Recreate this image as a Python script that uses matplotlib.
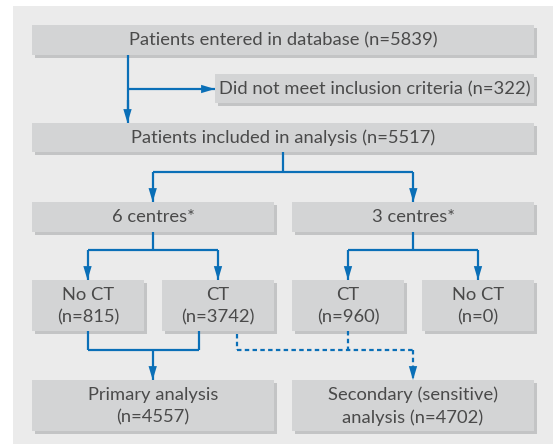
import matplotlib.pyplot as plt
from matplotlib.patches import Rectangle

# flowchart content
entered = 5839
excluded = 322
included = 5517
centres = ["6 centres*", "3 centres*"]
groups = ["No CT", "CT", "CT", "No CT"]
group_n = [815, 3742, 960, 0]
analyses = ["Primary analysis\n(n=4557)", "Secondary (sensitive)\nanalysis (n=4702)"]

BLUE = "#0a6fb7"
BOX = "#d3d4d5"
SHADOW = "#c3c4c5"
PANEL = "#ebebeb"
TXT = "#4a4a4a"
FS = 13.2

fig = plt.figure(figsize=(5.53, 4.45), dpi=100)
ax = fig.add_axes([0, 0, 1, 1])
ax.set_xlim(0, 553)
ax.set_ylim(445, 0)
ax.axis("off")

ax.add_patch(Rectangle((13, 6), 540, 438, color=PANEL, lw=0))


def box(x0, y0, x1, y1, text):
    ax.add_patch(Rectangle((x0 + 2.5, y0 + 2.5), x1 - x0, y1 - y0, color=SHADOW, lw=0))
    ax.add_patch(Rectangle((x0, y0), x1 - x0, y1 - y0, color=BOX, lw=0))
    ax.text((x0 + x1) / 2, (y0 + y1) / 2 + 0.5, text, ha="center", va="center",
            fontsize=FS, color=TXT, family="Lato", linespacing=1.5)


def line(xs, ys, dashed=False):
    kw = dict(dashes=(2, 1.5)) if dashed else {}
    ax.plot(xs, ys, color=BLUE, lw=1.6, solid_capstyle="butt", **kw)


def arrow(x0, y0, x1, y1, dashed=False):
    line([x0, x1], [y0, y1], dashed)
    ax.annotate("", xy=(x1, y1), xytext=(x1 - (x1 - x0) * 0.01, y1 - (y1 - y0) * 0.01),
                arrowprops=dict(arrowstyle="-|>,head_length=1.0,head_width=0.3",
                                color=BLUE, lw=0, shrinkA=0, shrinkB=0, mutation_scale=10))


box(32, 25, 534, 55, f"Patients entered in database (n={entered})")
box(215, 74, 534, 103, f"Did not meet inclusion criteria (n={excluded})")
box(32, 123, 534, 152, f"Patients included in analysis (n={included})")

line([127.5, 127.5], [55, 110])
arrow(127.5, 100, 127.5, 123)
arrow(127.5, 89, 215, 89)

# split to centres
line([283, 283], [152, 172])
line([152.7, 413.3], [172, 172])
arrow(152.7, 172, 152.7, 202)
arrow(413.3, 172, 413.3, 202)

box(32, 202, 274, 232, centres[0])
box(292, 202, 534, 232, centres[1])

gx = [(32, 144), (162, 274), (292, 404), (422, 534)]
for (x0, x1), g, n in zip(gx, groups, group_n):
    box(x0, 280, x1, 331, f"{g}\n(n={n})")

line([152.7, 152.7], [232, 250])
line([87.5, 218], [250, 250])
arrow(87.5, 250, 87.5, 280)
arrow(218, 250, 218, 280)
line([413.3, 413.3], [232, 250])
line([348, 478], [250, 250])
arrow(348, 250, 348, 280)
arrow(478, 250, 478, 280)

# merge into analyses
line([87.5, 87.5], [331, 350])
line([199, 199], [331, 350])
line([87.5, 199], [350, 350])
arrow(152.7, 350, 152.7, 380)
line([236.5, 236.5], [334, 350], dashed=True)
line([348, 348], [331, 350], dashed=True)
line([236.5, 413], [350, 350], dashed=True)
arrow(413, 350, 413, 380, dashed=True)

box(32, 380, 274, 431, analyses[0])
box(292, 380, 534, 431, analyses[1])

fig.savefig("out.png", dpi=100)
